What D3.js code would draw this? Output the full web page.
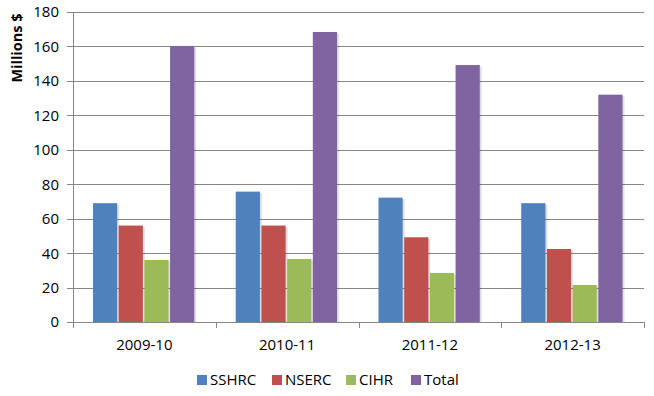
<!DOCTYPE html>
<html><head><meta charset="utf-8">
<script src="https://cdn.jsdelivr.net/npm/d3@7/dist/d3.min.js"></script>
<style>body{margin:0;background:#fff;} text{font-family:"Open Sans",sans-serif;}</style>
</head><body><svg id="c" width="654" height="396"></svg>
<script>
const categories = ["2009-10","2010-11","2011-12","2012-13"];
const seriesNames = ["SSHRC","NSERC","CIHR","Total"];
const SSHRC = [69, 75.7, 72.2, 69];
const NSERC = [56, 56, 49.2, 42.4];
const CIHR = [36, 36.6, 28.5, 21.5];
const Total = [160.3, 168.4, 149.2, 132];
const yTicks = [0,20,40,60,80,100,120,140,160,180];
const colors = ["#4F81BD","#C0504D","#9BBB59","#8064A2"];
const seriesValues = [SSHRC, NSERC, CIHR, Total];

(function(){
const svg = d3.select("#c");
const mLeft = 73, mRight = 644, mTop = 12, mBottom = 322;
const y = d3.scaleLinear().domain([0,180]).range([mBottom, mTop]);
const x0 = d3.scaleBand().domain(categories).range([mLeft, mRight]).paddingInner(0.28).paddingOuter(0.14);
const x1 = d3.scaleBand().domain(seriesNames).range([0, x0.bandwidth()]);
const xb = d3.scaleBand().domain(categories).range([mLeft, mRight]);

svg.append("g").selectAll("line").data(yTicks).join("line")
  .attr("x1", mLeft-6).attr("x2", mRight).attr("y1", d=>Math.round(y(d))+0.5).attr("y2", d=>Math.round(y(d))+0.5)
  .attr("stroke", "#868686").attr("stroke-width", 1);
svg.append("line").attr("x1", mLeft+0.5).attr("x2", mLeft+0.5).attr("y1", y(180)).attr("y2", y(0))
  .attr("stroke","#868686");
const bounds = categories.map(c=>xb(c)).concat([mRight]);
svg.append("g").selectAll("line").data(bounds).join("line")
  .attr("x1", d=>Math.round(d)+0.5).attr("x2", d=>Math.round(d)+0.5)
  .attr("y1", Math.round(y(0))).attr("y2", Math.round(y(0))+6).attr("stroke","#868686");
svg.append("g").selectAll("text").data(yTicks).join("text")
  .attr("x", 59).attr("y", d=>y(d)).attr("dy","0.36em").attr("text-anchor","end")
  .attr("font-size", 15).attr("fill","#000").text(d=>d);
svg.append("text").attr("transform","translate(22,48) rotate(-90)").attr("text-anchor","middle")
  .attr("font-size",14.5).attr("font-weight","bold").text("Millions $");

const g = svg.append("g");
categories.forEach((c, i) => {
  seriesNames.forEach((s, j) => {
    const v = seriesValues[j][i];
    const bx = x0(c) + x1(s);
    g.append("rect").attr("x", bx+1.5).attr("y", y(v)+1.5).attr("width", x1.bandwidth()-1)
      .attr("height", y(0)-y(v)-1.5).attr("fill","#000").attr("opacity",0.12);
    g.append("rect").attr("x", bx).attr("y", y(v)).attr("width", x1.bandwidth()-1.5)
      .attr("height", y(0)-y(v)).attr("fill", colors[j]);
  });
});

svg.append("g").selectAll("text").data(categories).join("text")
  .attr("x", d=>xb(d)+xb.bandwidth()/2).attr("y", 345).attr("dy","0.36em")
  .attr("text-anchor","middle").attr("font-size",15).text(d=>d);

const legX = [197, 272, 346, 411];
const lg = svg.append("g");
seriesNames.forEach((s, j) => {
  lg.append("rect").attr("x", legX[j]).attr("y", 375).attr("width", 10).attr("height", 10).attr("fill", colors[j]);
  lg.append("text").attr("x", legX[j]+13).attr("y", 380).attr("dy","0.36em").attr("font-size",15).text(s);
});
})();
</script></body></html>
